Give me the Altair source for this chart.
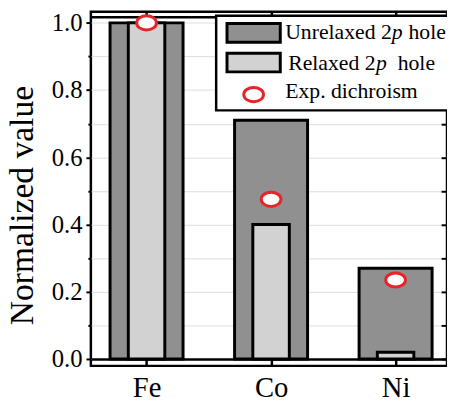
import altair as alt
import pandas as pd

elements = ["Fe", "Co", "Ni"]
unrelaxed = [1.0, 0.71, 0.27]
relaxed = [1.0, 0.40, 0.02]
exp_dichroism = [1.0, 0.475, 0.235]

major_ticks = [0.0, 0.2, 0.4, 0.6, 0.8, 1.0]
all_ticks = [0.0, 0.1, 0.2, 0.3, 0.4, 0.5, 0.6, 0.7, 0.8, 0.9, 1.0]

legend_row1 = ["Unrelaxed 2", "p", "hole"]
legend_row2 = ["Relaxed 2", "p", "hole"]
legend_row3 = ["Exp. dichroism"]

FONT = "Liberation Serif, Times New Roman, Times, DejaVu Serif, serif"
DARK = "#909090"
LIGHT = "#d2d2d2"
RED = "#e5252a"
ELLIPSE = "M-1,0A1,0.72,0,1,0,1,0A1,0.72,0,1,0,-1,0Z"

df = pd.DataFrame({
    "element": elements,
    "unrelaxed": unrelaxed,
    "relaxed": relaxed,
    "exp": exp_dichroism,
})

xscale = alt.Scale(type="point", padding=0.43, align=0.52, domain=elements)
yscale = alt.Scale(domain=[-0.0205, 1.0332], nice=False, zero=False)

base = alt.Chart(df)

unrel = base.mark_bar(size=74, fill=DARK, stroke="black", strokeWidth=3).encode(
    x=alt.X("element:N", scale=xscale, sort=elements,
            axis=alt.Axis(orient="bottom", offset=-7, tickSize=7, tickWidth=2.5,
                          tickColor="black", domainColor="black", domainWidth=2.5,
                          labelFont=FONT, labelFontSize=29, labelColor="black",
                          labelPadding=8, labelAngle=0, title=None)),
    y=alt.Y("unrelaxed:Q", scale=yscale,
            axis=alt.Axis(orient="left", values=all_ticks, domain=False,
                          labelExpr="round(datum.value*10)%2==0 ? format(datum.value,'.1f') : ''",
                          tickSize={"condition": {"test": "round(datum.value*10)%2==0", "value": 5}, "value": 3},
                          tickWidth=2, tickColor="black",
                          labelFont=FONT, labelFontSize=25, labelColor="black",
                          labelPadding=4, title="Normalized value",
                          titleFont=FONT, titleFontSize=34, titleFontWeight="normal",
                          titleColor="black", titleBaseline="alphabetic",
                          titleX=-59, titleY=196)),
)

rel = base.mark_bar(size=37, fill=LIGHT, stroke="black", strokeWidth=3).encode(
    x=alt.X("element:N", scale=xscale, sort=elements,
            axis=alt.Axis(orient="top", offset=-5, tickSize=5, tickWidth=2.5,
                          tickColor="black", domainColor="black", domainWidth=2.5,
                          labels=False, title=None)),
    y=alt.Y("relaxed:Q", scale=yscale,
            axis=alt.Axis(orient="right", offset=-6, tickSize=6, tickWidth=2,
                          tickColor="black", domain=False, labels=False,
                          values=all_ticks, title=None)),
)

pts = base.mark_point(shape=ELLIPSE, size=400, filled=True, fill="white",
                      fillOpacity=1, stroke=RED, strokeWidth=3, opacity=1).encode(
    x=alt.X("element:N", scale=xscale, sort=elements, axis=None),
    y=alt.Y("exp:Q", scale=yscale, axis=None),
)

one = alt.Chart(pd.DataFrame({"k": [0]}))

legend_box = one.mark_rect(fill="white", stroke="black", strokeWidth=2.5).encode(
    x=alt.value(127), x2=alt.value(380), y=alt.value(4), y2=alt.value(100))
sw1 = one.mark_rect(fill=DARK, stroke="black", strokeWidth=3).encode(
    x=alt.value(138), x2=alt.value(192), y=alt.value(12), y2=alt.value(31))
sw2 = one.mark_rect(fill=LIGHT, stroke="black", strokeWidth=3).encode(
    x=alt.value(138), x2=alt.value(192), y=alt.value(42), y2=alt.value(61))
lp = one.mark_point(shape=ELLIPSE, size=400, filled=True, fill="white",
                    fillOpacity=1, stroke=RED, strokeWidth=3, opacity=1).encode(
    x=alt.value(165), y=alt.value(84))

def txt(s, x, y, italic=False):
    return alt.Chart(pd.DataFrame({"t": [s]})).mark_text(
        align="left", baseline="alphabetic", font=FONT, fontSize=22,
        fontStyle="italic" if italic else "normal", color="black").encode(
        text="t:N", x=alt.value(x), y=alt.value(y))

texts = [
    txt(legend_row1[0], 197, 28), txt(legend_row1[1], 305, 28, True), txt(legend_row1[2], 322, 28),
    txt(legend_row2[0], 200, 59), txt(legend_row2[1], 289, 59, True), txt(legend_row2[2], 311, 59),
    txt(legend_row3[0], 197, 87),
]

chart = alt.layer(unrel, rel, pts, legend_box, sw1, sw2, lp, *texts).resolve_axis(
    x="independent", y="independent"
).properties(
    width=361, height=359,
    autosize=alt.AutoSizeParams(type="none"),
    padding={"left": 84, "top": 1, "right": 0, "bottom": 45},
).configure_view(stroke="black", strokeWidth=2.5)

chart.save("out.html", embed_options={"renderer": "svg", "actions": False})
